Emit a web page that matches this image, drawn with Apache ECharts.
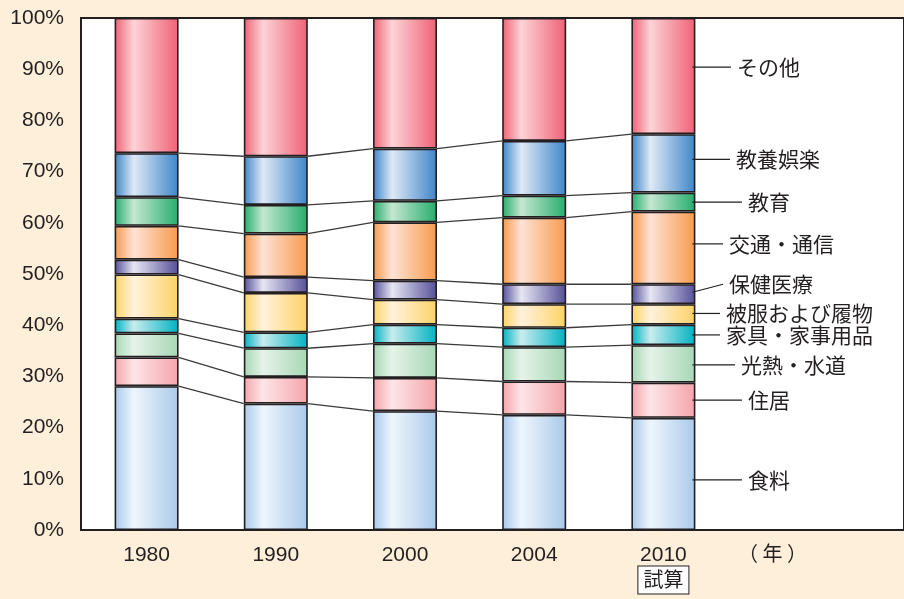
<!DOCTYPE html>
<html lang="ja">
<head>
    <meta charset="UTF-8">
    <title>消費支出の構成比</title>
    <script src="https://cdn.jsdelivr.net/npm/echarts/dist/echarts.min.js"></script>
    <style>
        body { margin: 0; background: #fdefd9; }
    </style>
</head>
<body>
    <div id="main" style="width: 904px;height: 599px;"></div>

    <script>
        // 年
        const years = ['1980', '1990', '2000', '2004', '2010'];
        // 費目（下から順）
        const categories = ['食料', '住居', '光熱・水道', '家具・家事用品', '被服および履物',
            '保健医療', '交通・通信', '教育', '教養娯楽', 'その他'];

        // 構成比 (%)
        const food      = [28.1, 24.7, 23.2, 22.5, 21.9];
        const housing   = [5.6, 5.2, 6.5, 6.5, 6.9];
        const utilities = [4.7, 5.6, 6.7, 6.7, 7.3];
        const furniture = [2.9, 3.1, 3.7, 3.8, 4.0];
        const clothing  = [8.6, 7.7, 4.9, 4.6, 4.0];
        const medical   = [2.9, 3.1, 3.7, 3.9, 3.9];
        const transport = [6.6, 8.5, 11.4, 13.0, 14.2];
        const education = [5.6, 5.6, 4.2, 4.3, 3.7];
        const culture   = [8.6, 9.5, 10.2, 10.7, 11.4];
        const others    = [26.4, 27.0, 25.5, 24.0, 22.7];

        const values = [food, housing, utilities, furniture, clothing,
            medical, transport, education, culture, others];

        // 色（濃・淡）
        const darkColors  = ['#a9c9ea', '#f4a4aa', '#a6d7b5', '#00b2c2', '#fdd265',
            '#554f98', '#f79a4c', '#25ad6c', '#3d85c8', '#ef6175'];
        const lightColors = ['#eef6fd', '#fde5e7', '#e5f3e9', '#c9eced', '#fff2dc',
            '#e7e6f3', '#fee2d5', '#c5e7d1', '#dfe9f6', '#fcd3d7'];

        // ラベル位置の調整 (px)
        const labelX  = [748, 748, 741, 726, 726, 729, 729, 748, 736, 737];
        const labelDy = [6, 0, 1, 0, -1, -2, -4, 0, -4, -9];
        const labelSlant = [0, 0, 0, 0, 0, -8, 0, 0, 0, 0];

        const barW = 64;
        const ink = '#231f20';

        // 累積値
        function cum(i, k) {
            let s = 0;
            for (let j = 0; j < k; j++) s += values[j][i];
            return s;
        }

        let series = values.map((arr, k) => ({
            name: categories[k],
            type: 'bar',
            stack: 'total',
            barWidth: barW,
            data: arr,
            itemStyle: {
                color: new echarts.graphic.LinearGradient(0, 0, 1, 0, [
                    {offset: 0, color: darkColors[k]},
                    {offset: 0.3, color: lightColors[k]},
                    {offset: 1, color: darkColors[k]}
                ]),
                borderColor: ink,
                borderWidth: 1.6
            }
        }));

        // 棒の間の線と右側のラベル
        series.push({
            type: 'custom',
            data: years.map((y, i) => [i, 0]),
            encode: {x: 0, y: 1},
            z: 5,
            silent: true,
            renderItem(params, api) {
                const i = api.value(0);
                const children = [];
                if (i < years.length - 1) {
                    for (let k = 1; k < categories.length; k++) {
                        const p1 = api.coord([i, cum(i, k)]);
                        const p2 = api.coord([i + 1, cum(i + 1, k)]);
                        children.push({
                            type: 'line',
                            shape: {x1: p1[0] + barW / 2, y1: p1[1], x2: p2[0] - barW / 2, y2: p2[1]},
                            style: {stroke: '#3a3a3a', lineWidth: 1.3}
                        });
                    }
                } else {
                    for (let k = 0; k < categories.length; k++) {
                        const mid = cum(i, k) + values[k][i] / 2;
                        const p = api.coord([i, mid]);
                        const y1 = p[1] + labelDy[k];
                        const y2 = y1 + labelSlant[k];
                        children.push({
                            type: 'line',
                            shape: {x1: p[0] + barW / 2 - 3, y1: y1, x2: labelX[k] - 6, y2: y2},
                            style: {stroke: ink, lineWidth: 1.2}
                        });
                        children.push({
                            type: 'text',
                            x: labelX[k],
                            y: y2,
                            style: {
                                text: categories[k],
                                font: '21px "Noto Sans CJK JP"',
                                fill: ink,
                                verticalAlign: 'middle',
                                align: 'left'
                            }
                        });
                    }
                }
                return {type: 'group', children: children};
            }
        });

        let mycharts = echarts.init(document.getElementById('main'));

        let options = {
            backgroundColor: '#fdefd9',
            animation: false,
            grid: [
                {left: 82, width: 646, top: 18, bottom: 69},
                {left: 81, right: -20, top: 18, bottom: 69, show: true,
                    backgroundColor: '#fff', borderColor: ink, borderWidth: 2}
            ],
            xAxis: [{
                type: 'category',
                data: years,
                gridIndex: 0,
                axisLine: {show: false},
                axisTick: {show: false},
                axisLabel: {
                    margin: 12,
                    fontSize: 21,
                    lineHeight: 26,
                    color: ink,
                    fontFamily: 'Liberation Sans',
                    formatter: function (v) {
                        return v === '2010' ? v + '\n{box|試算}' : v;
                    },
                    rich: {
                        box: {
                            fontSize: 20,
                            lineHeight: 24,
                            fontFamily: 'Noto Sans CJK JP',
                            color: ink,
                            backgroundColor: '#fff',
                            borderColor: ink,
                            borderWidth: 1,
                            padding: [3, 5, 4, 5]
                        }
                    }
                }
            }, {
                type: 'value', gridIndex: 1, show: false
            }],
            yAxis: [{
                type: 'value',
                gridIndex: 0,
                min: 0,
                max: 100,
                interval: 10,
                axisLine: {show: false},
                axisTick: {show: false},
                splitLine: {show: false},
                axisLabel: {
                    margin: 18,
                    fontSize: 21,
                    color: ink,
                    fontFamily: 'Liberation Sans',
                    formatter: '{value}%'
                }
            }, {
                type: 'value', gridIndex: 1, show: false
            }],
            graphic: [{
                type: 'text',
                left: 738,
                top: 543,
                style: {text: '（ 年 ）', font: '20px "Noto Sans CJK JP"', fill: ink}
            }],
            series: series
        };

        mycharts.setOption(options);
    </script>
</body>
</html>
